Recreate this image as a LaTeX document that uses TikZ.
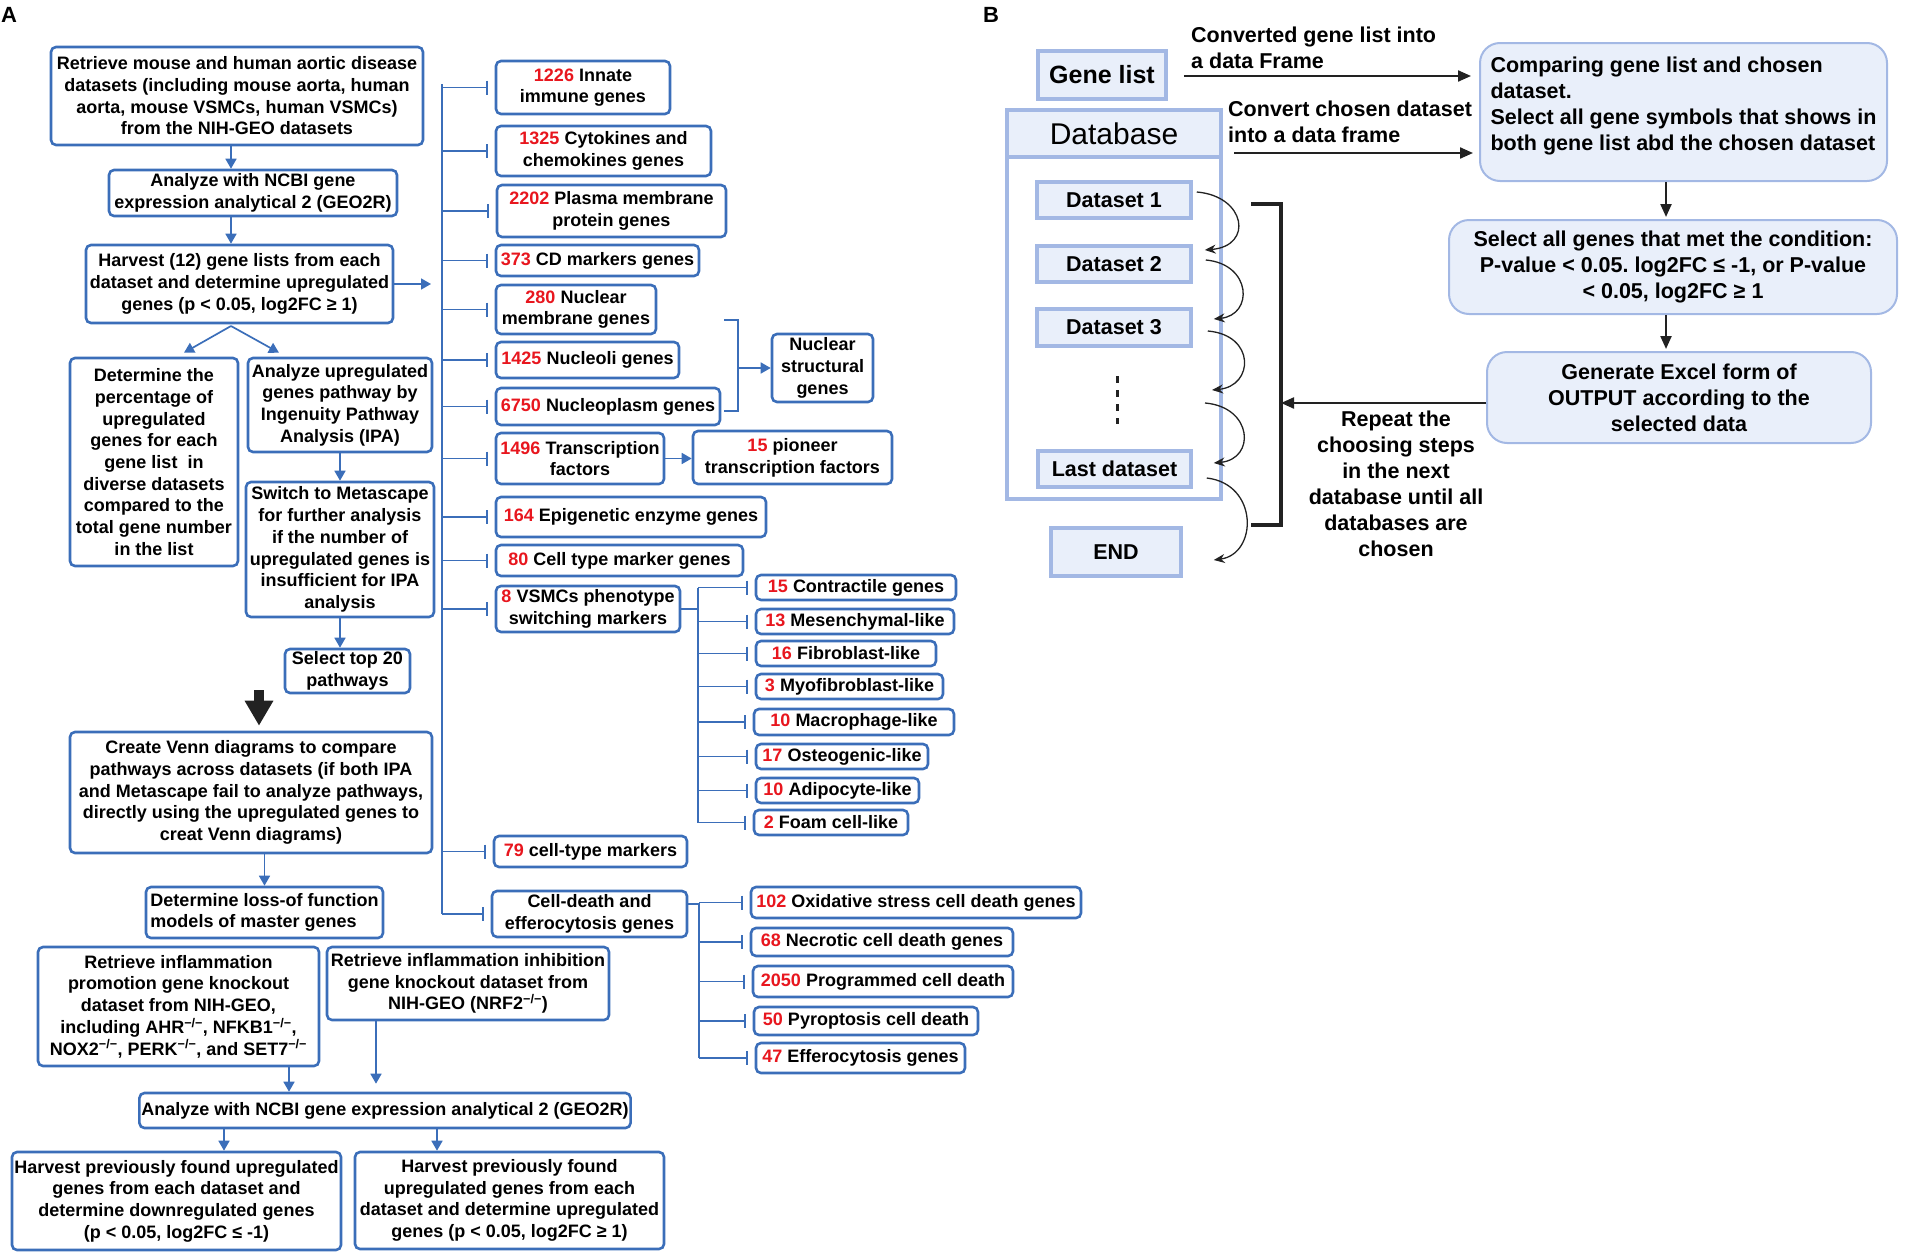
\documentclass[tikz,border=0pt]{standalone}
\usepackage{fontspec}
\setmainfont{Liberation Sans}
\newfontfamily\afont{Liberation Sans}
\frenchspacing
\usetikzlibrary{arrows.meta,calc}
\definecolor{ablue}{RGB}{59,110,185}
\definecolor{nred}{RGB}{232,22,30}
\definecolor{bfill}{RGB}{233,239,250}
\definecolor{bedge}{RGB}{163,184,228}
\definecolor{dk}{RGB}{34,34,34}
\newcommand{\nr}[1]{\textcolor{nred}{#1}}
\newcommand{\ko}{\textsuperscript{−/−}}
\newcommand{\bx}[7][]{%
 \pgfmathsetmacro\myW{#5-#3}%
 \pgfmathsetmacro\myH{#6-#4}%
 \node[#1, inner xsep=2pt, inner ysep=0pt, minimum width=\myW pt, minimum height=\myH pt] (#2) at ({(#3+#5)/2},{(#4+#6)/2}) {#7};}
\tikzset{
 fA/.style={font=\afont\fontsize{18}{21.7}\selectfont\bfseries},
 fB/.style={font=\fontsize{21.5}{26}\selectfont\bfseries},
 boxA/.style={draw=ablue, line width=2.6pt, rounded corners=5pt, fill=white, align=center, fA},
 connA/.style={draw=ablue, line width=1.7pt},
 arrA/.style={connA, -{Triangle[length=10pt,width=11pt]}},
 brA/.style={connA, -{Bar[width=14pt]}, shorten >=7pt},
 bigarr/.style={draw=dk, line width=10pt, -{Triangle[length=25pt,width=27pt]}},
 gbox/.style={draw=bedge, fill=bfill, line width=3.5pt, align=center, fB},
 framebox/.style={draw=bedge, line width=3.5pt},
 headbox/.style={draw=bedge, fill=bfill, line width=4.5pt, align=center, font=\fontsize{30}{34}\selectfont},
 rbox/.style={draw=bedge, fill=bfill, line width=2pt, rounded corners=20pt, align=center, fB},
 txtB/.style={fB, inner sep=0pt},
 arrB/.style={draw=dk, line width=2.2pt, -{Triangle[length=13pt,width=11pt]}},
 curvB/.style={draw=dk, line width=1.3pt, -{Stealth[length=11pt,width=9pt]}},
 brk/.style={draw=dk, line width=4pt},
 dotsB/.style={draw=dk, line width=3pt, dash pattern=on 7pt off 7pt},
}
\begin{document}
\begin{tikzpicture}[x=1pt,y=-1pt]
\useasboundingbox (0,0) rectangle (1905,1258);
% labels
\node[font=\fontsize{22}{26}\selectfont\bfseries, anchor=base west, inner sep=0pt] (labA) at (1,23) {A};
\node[font=\fontsize{22}{26}\selectfont\bfseries, anchor=base west, inner sep=0pt] (labB) at (983,23) {B};

% ---------- Panel A left column ----------
\bx[boxA]{a1}{51}{47}{423}{145}{Retrieve mouse and human aortic disease\\datasets (including mouse aorta, human\\aorta, mouse VSMCs, human VSMCs)\\from the NIH-GEO datasets}
\bx[boxA]{a2}{109}{170}{397}{216}{Analyze with NCBI gene\\expression analytical 2 (GEO2R)}
\bx[boxA]{a3}{86}{245}{393}{323}{Harvest (12) gene lists from each\\dataset and determine upregulated\\genes (p < 0.05, log2FC ≥ 1)}
\bx[boxA]{a4}{70}{358}{238}{566}{Determine the\\percentage of\\upregulated\\genes for each\\gene list~ in\\diverse datasets\\compared to the\\total gene number\\in the list}
\bx[boxA]{a5}{248}{358}{432}{452}{Analyze upregulated\\genes pathway by\\Ingenuity Pathway\\Analysis (IPA)}
\bx[boxA]{a6}{246}{482}{434}{617}{Switch to Metascape\\for further analysis\\if the number of\\upregulated genes is\\insufficient for IPA\\analysis}
\bx[boxA]{a7}{285}{649}{410}{693}{Select top 20\\pathways}
\bx[boxA]{a8}{70}{732}{432}{853}{Create Venn diagrams to compare\\pathways across datasets (if both IPA\\and Metascape fail to analyze pathways,\\directly using the upregulated genes to\\creat Venn diagrams)}
\bx[boxA,align=left]{a9}{146}{887}{383}{938}{Determine loss-of function\\models of master genes}
\bx[boxA]{a10}{38}{947}{319}{1066}{Retrieve inflammation\\promotion gene knockout\\dataset from NIH-GEO,\\including AHR\ko, NFKB1\ko,\\NOX2\ko, PERK\ko, and SET7\ko}
\bx[boxA]{a11}{327}{947}{609}{1020}{Retrieve inflammation inhibition\\gene knockout dataset from\\NIH-GEO (NRF2\ko)}
\bx[boxA]{a12}{141}{1093}{629}{1128}{Analyze with NCBI gene expression analytical 2 (GEO2R)}
\bx[boxA]{a13}{12}{1152}{341}{1250}{Harvest previously found upregulated\\genes from each dataset and\\determine downregulated genes\\(p < 0.05, log2FC ≤ -1)}
\bx[boxA]{a14}{355}{1152}{664}{1249}{Harvest previously found\\upregulated genes from each\\dataset and determine upregulated\\genes (p < 0.05, log2FC ≥ 1)}

\coordinate (xa) at (231,0);
\draw[arrA] (a1.south -| xa) -- (a2.north -| xa);
\draw[arrA] (a2.south -| xa) -- (a3.north -| xa);
\coordinate (dv) at (231,326);
\draw[arrA] (dv) -- ($(a4.north)+(30,-4)$);
\draw[arrA] (dv) -- ($(a5.north)+(-61,-4)$);
\draw[arrA] (a5.south) -- (a6.north);
\draw[arrA] (a6.south) -- (a7.north -| a6.south);
\coordinate (bigS) at (259,690);
\draw[bigarr] (bigS) -- ($(a8.north -| bigS)+(0,-5)$);
\draw[arrA] (a8.south -| a9.north) -- (a9.north);
\coordinate (x10) at (289,0);
\draw[arrA] (a10.south -| x10) -- (a12.north -| x10);
\coordinate (x11) at (376,0);
\draw[arrA, shorten >=8pt] (a11.south -| x11) -- (a12.north -| x11);
\coordinate (x13) at (224,0);
\coordinate (x14) at (437,0);
\draw[arrA] (a12.south -| x13) -- (a13.north -| x13);
\draw[arrA] (a12.south -| x14) -- (a14.north -| x14);

% ---------- Panel A right column ----------
\bx[boxA]{b1226}{496}{61}{670}{114}{\nr{1226} Innate\\immune genes}
\bx[boxA]{b1325}{496}{126}{711}{176}{\nr{1325} Cytokines and\\chemokines genes}
\bx[boxA]{b2202}{497}{185}{726}{237}{\nr{2202} Plasma membrane\\protein genes}
\bx[boxA]{b373}{496}{245}{699}{276}{\nr{373} CD markers genes}
\bx[boxA]{b280}{496}{285}{656}{334}{\nr{280} Nuclear\\membrane genes}
\bx[boxA]{b1425}{496}{342}{679}{378}{\nr{1425} Nucleoli genes}
\bx[boxA]{b6750}{496}{388}{720}{425}{\nr{6750} Nucleoplasm genes}
\bx[boxA]{bnsg}{772}{334}{873}{402}{Nuclear\\structural\\genes}
\bx[boxA]{b1496}{496}{433}{664}{484}{\nr{1496} Transcription\\factors}
\bx[boxA]{bpio}{693}{431}{892}{484}{\nr{15} pioneer\\transcription factors}
\bx[boxA]{b164}{496}{497}{766}{537}{\nr{164} Epigenetic enzyme genes}
\bx[boxA]{b80}{496}{545}{743}{576}{\nr{80} Cell type marker genes}
\bx[boxA]{bvsmc}{496}{586}{680}{632}{\nr{8} VSMCs phenotype\\switching markers}
\bx[boxA]{s15}{756}{575}{956}{600}{\nr{15} Contractile genes}
\bx[boxA]{s13}{756}{609}{954}{634}{\nr{13} Mesenchymal-like}
\bx[boxA]{s16}{756}{641}{936}{666}{\nr{16} Fibroblast-like}
\bx[boxA]{s3}{756}{674}{943}{699}{\nr{3} Myofibroblast-like}
\bx[boxA]{s10m}{754}{709}{954}{735}{\nr{10} Macrophage-like}
\bx[boxA]{s17}{756}{744}{928}{769}{\nr{17} Osteogenic-like}
\bx[boxA]{s10a}{756}{778}{919}{803}{\nr{10} Adipocyte-like}
\bx[boxA]{s2}{754}{810}{908}{835}{\nr{2} Foam cell-like}
\bx[boxA]{b79}{494}{836}{687}{867}{\nr{79} cell-type markers}
\bx[boxA]{bcd}{492}{891}{687}{937}{Cell-death and\\efferocytosis genes}
\bx[boxA]{c102}{751}{887}{1081}{918}{\nr{102} Oxidative stress cell death genes}
\bx[boxA]{c68}{751}{928}{1013}{956}{\nr{68} Necrotic cell death genes}
\bx[boxA]{c2050}{753}{966}{1013}{997}{\nr{2050} Programmed cell death}
\bx[boxA]{c50}{754}{1007}{978}{1035}{\nr{50} Pyroptosis cell death}
\bx[boxA]{c47}{756}{1043}{965}{1073}{\nr{47} Efferocytosis genes}

% spine
\coordinate (spT) at (442,84);
\draw[connA] (spT) -- (spT |- bcd.west);
\draw[arrA] (a3.east) -- ($(a3.east -| spT)+(-11,0)$);
\foreach \n in {b1226,b1325,b2202,b373,b280,b1425,b6750,b1496,b164,b80,bvsmc,b79,bcd}
  \draw[brA] (spT |- \n.west) -- (\n.west);
% nuclear bracket
\coordinate (nbT) at (724,320);
\coordinate (nbB) at (724,411);
\coordinate (nbM) at (738,368);
\draw[connA] (nbT) -- ++(14,0) |- (nbB);
\draw[arrA] (nbM) -- (bnsg.west);
% transcription
\draw[arrA] (b1496.east) -- (bpio.west |- b1496.east);
% VSMC sub-tree
\coordinate (vx) at (698,0);
\draw[connA] (bvsmc.east) -- (bvsmc.east -| vx);
\draw[connA] (vx |- s15.west) -- (vx |- s2.west);
\foreach \n in {s15,s13,s16,s3,s10m,s17,s10a,s2}
  \draw[brA] (vx |- \n.west) -- (\n.west);
% cell death sub-tree
\coordinate (cx) at (699,0);
\draw[connA] ($(bcd.east)+(0,-10)$) -- ($(bcd.east -| cx)+(0,-10)$);
\draw[connA] (cx |- c102.west) -- (cx |- c47.west);
\foreach \n in {c102,c68,c2050,c50,c47}
  \draw[brA] (cx |- \n.west) -- (\n.west);

% ---------- Panel B ----------
\bx[gbox,font=\fontsize{25}{30}\selectfont\bfseries]{gl}{1038}{51}{1166}{99}{Gene list}
\bx[framebox]{dbf}{1007}{110}{1221}{499}{}
\bx[headbox]{dbh}{1007}{110}{1221}{157}{Database}
\bx[gbox]{d1}{1037}{182}{1191}{218}{Dataset 1}
\bx[gbox]{d2}{1037}{246}{1191}{282}{Dataset 2}
\bx[gbox]{d3}{1037}{309}{1191}{346}{Dataset 3}
\bx[gbox]{dl}{1038}{451}{1191}{487}{Last dataset}
\bx[gbox]{endb}{1051}{528}{1181}{576}{END}
\coordinate (dotT) at (1117,376);
\coordinate (dotB) at (1117,424);
\draw[dotsB] (dotT) -- (dotB);

\bx[rbox,align=left]{cmp}{1480}{43}{1887}{181}{Comparing gene list and chosen\\dataset.\\Select all gene symbols that shows in\\both gene list abd the chosen dataset\\[-10pt]}
\bx[rbox]{sel}{1449}{220}{1897}{314}{Select all genes that met the condition:\\P-value < 0.05. log2FC ≤ -1, or P-value\\< 0.05, log2FC ≥ 1}
\bx[rbox]{gen}{1487}{352}{1871}{443}{Generate Excel form of\\OUTPUT according to the\\selected data}

\node[txtB, align=left, anchor=west] (l1) at (1191,48) {Converted gene list into\\a data Frame};
\node[txtB, align=left, anchor=west] (l2) at (1228,122) {Convert chosen dataset\\into a data frame};
\node[txtB, align=center] (rep) at (1396,484) {Repeat the\\choosing steps\\in the next\\database until all\\databases are\\chosen};

\draw[arrB, shorten >=8pt] ($(gl.east)+(16,1)$) -- ($(cmp.west |- gl.east)+(0,1)$);
\coordinate (a2s) at (1234,153);
\draw[arrB, shorten >=6pt] (a2s) -- (cmp.west |- a2s);
\coordinate (xB) at (1666,0);
\draw[arrB, shorten >=2pt] (cmp.south -| xB) -- (sel.north -| xB);
\draw[arrB, shorten >=2pt] (sel.south -| xB) -- (gen.north -| xB);

% curved arrows
\coordinate (dotR1) at (1212,390);
\coordinate (dotR2) at (1205,403);
\draw[curvB] ($(d1.east)+(4,-8)$) .. controls +(49,4) and +(49,-4) .. ($(d2.east)+(12,-14)$);
\draw[curvB] ($(d2.east)+(13,-4)$) .. controls +(46,4) and +(40,-4) .. ($(d3.east)+(21,-8.5)$);
\draw[curvB] ($(d3.east)+(15,3.5)$) .. controls +(48,4) and +(42,-4) .. (dotR1);
\draw[curvB] (dotR2) .. controls +(48,4) and +(42,-4) .. ($(dl.east)+(21,-6)$);
\draw[curvB] ($(dl.east)+(14,9)$) .. controls +(52,6) and +(44,-6) .. ($(endb.east)+(31,8)$);

% bracket
\coordinate (brT) at (1251,204);
\coordinate (brB) at (1251,525);
\coordinate (brM) at (1281,403);
\draw[brk] (brT) -- ++(30,0) |- (brB);
\draw[arrB] (gen.west |- brM) -- (brM);
\end{tikzpicture}
\end{document}
